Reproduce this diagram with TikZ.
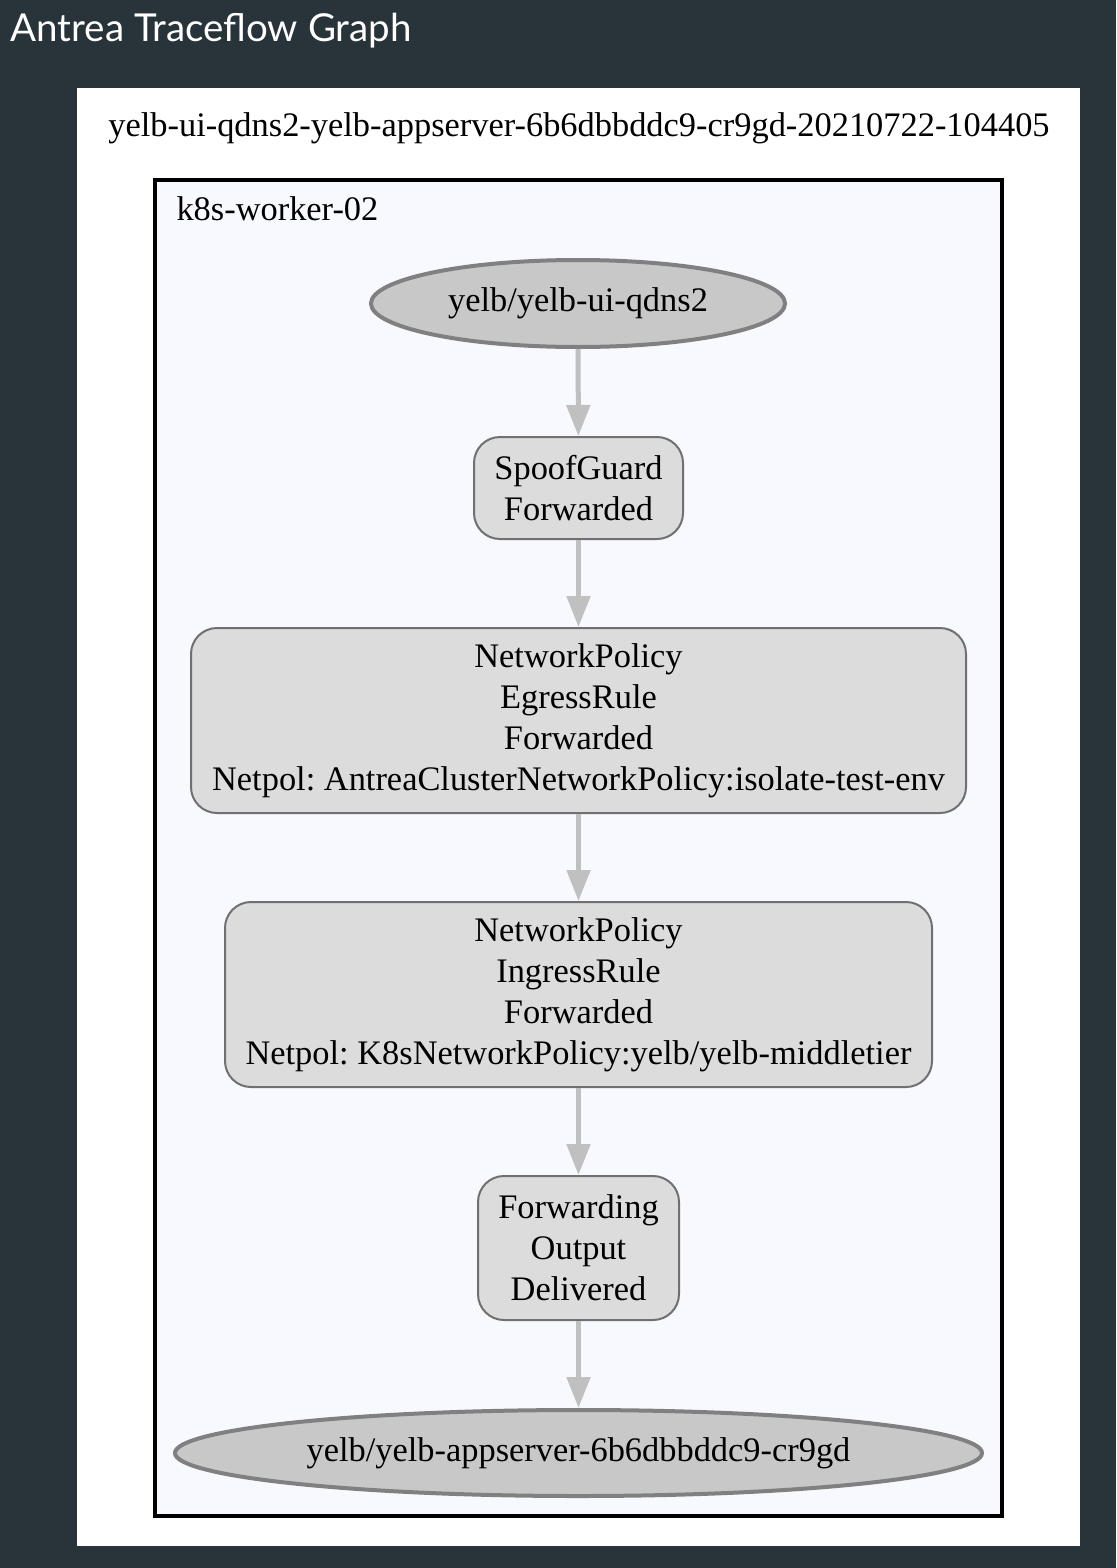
\documentclass[tikz,border=0pt]{standalone}
\usepackage{fontspec}
\setmainfont{Liberation Serif}
\newfontfamily\titlefont{Lato}
\usetikzlibrary{shapes.geometric,arrows.meta}
\definecolor{bgdark}{RGB}{41,51,58}
\definecolor{clfill}{RGB}{248,248,255}
\definecolor{ellfill}{RGB}{200,200,200}
\definecolor{ellline}{RGB}{128,128,128}
\definecolor{boxfill}{RGB}{220,220,220}
\definecolor{boxline}{RGB}{112,112,112}
\definecolor{arrcol}{RGB}{192,192,192}
\frenchspacing
\tikzset{
  txt/.style={font=\fontsize{34.4}{41}\selectfont, align=center, text=black},
  endpoint/.style={txt, ellipse, fill=ellfill, draw=ellline, line width=4pt, inner sep=0pt},
  stepbox/.style={txt, rectangle, rounded corners=26pt, fill=boxfill, draw=boxline, line width=2pt, inner sep=0pt},
  flow/.style={draw=arrcol, line width=5pt, -{Triangle[width=23pt,length=31pt]}}
}
\begin{document}
\begin{tikzpicture}[x=1pt,y=-1pt]
\useasboundingbox (0,0) rectangle (1116,1568);
\fill[bgdark] (0,0) rectangle (1116,1568);
\fill[white] (77,88) rectangle (1080,1546);
\node[anchor=west, text=white, font=\titlefont\fontsize{38.5}{44}\selectfont] (title) at (7,31) {Antrea Traceflow Graph};
\node[txt] (gtitle) at (579,128) {yelb-ui-qdns2-yelb-appserver-6b6dbbddc9-cr9gd-20210722-104405};
\draw[line width=4pt, fill=clfill] (154.5,179.5) rectangle (1002,1516);
\node[txt, anchor=west] (clabel) at (173,209) {k8s-worker-02};
\node[endpoint, minimum width=414pt, minimum height=87pt] (src) at (578,303.5) {yelb/yelb-ui-qdns2};
\node[stepbox, minimum width=209pt, minimum height=102pt] (spoof) at (578.5,488) {SpoofGuard\\Forwarded};
\node[stepbox, minimum width=775pt, minimum height=185pt] (egress) at (578.5,720.5) {NetworkPolicy\\EgressRule\\Forwarded\\Netpol: AntreaClusterNetworkPolicy:isolate-test-env};
\node[stepbox, minimum width=707pt, minimum height=185pt] (ingress) at (578.5,994.5) {NetworkPolicy\\IngressRule\\Forwarded\\Netpol: K8sNetworkPolicy:yelb/yelb-middletier};
\node[stepbox, minimum width=201pt, minimum height=144pt] (fwd) at (578.5,1248) {Forwarding\\Output\\Delivered};
\node[endpoint, minimum width=807pt, minimum height=86pt] (dst) at (578.5,1453) {yelb/yelb-appserver-6b6dbbddc9-cr9gd};
\draw[flow] (src) -- (spoof);
\draw[flow] (spoof) -- (egress);
\draw[flow] (egress) -- (ingress);
\draw[flow] (ingress) -- (fwd);
\draw[flow] (fwd) -- (dst);
\end{tikzpicture}
\end{document}
